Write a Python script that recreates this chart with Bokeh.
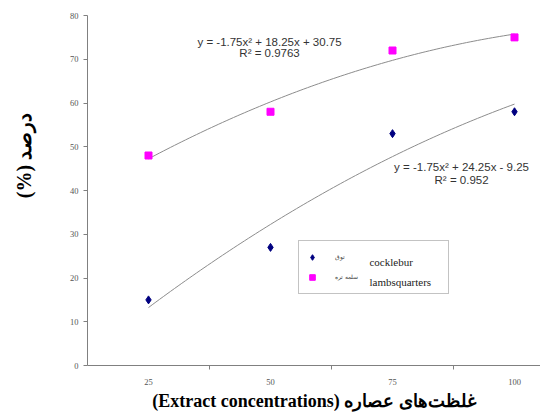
import numpy as np
from bokeh.plotting import figure
from bokeh.models import Range1d, FixedTicker, Legend, LegendItem, Label
from bokeh.embed import file_html
from bokeh.resources import INLINE

concentrations = ["25", "50", "75", "100"]
cocklebur = [15, 27, 53, 58]
lambsquarters = [48, 58, 72, 75]
fit_cocklebur = [-1.75, 24.25, -9.25]
fit_lambsquarters = [-1.75, 18.25, 30.75]
eq_cocklebur = ["y = -1.75x² + 24.25x - 9.25", "R² = 0.952"]
eq_lambsquarters = ["y = -1.75x² + 18.25x + 30.75", "R² = 0.9763"]
legend_fa = ["توق", "سلمه تره"]
legend_en = ["cocklebur", "lambsquarters"]

idx = list(range(1, len(concentrations) + 1))
NB = "\u00a0"

p = figure(width=540, height=413, output_backend="svg", toolbar_location=None,
           x_range=Range1d(0.5, 4.213), y_range=Range1d(0, 80),
           min_border_left=87, min_border_right=0, min_border_top=15, min_border_bottom=44)
p.outline_line_color = None
p.xgrid.visible = False
p.ygrid.visible = False
p.background_fill_color = "white"

# trend lines
xs = np.linspace(1, 4, 100)
for coef in (fit_cocklebur, fit_lambsquarters):
    p.line(xs, np.polyval(coef, xs), line_color="#8c8c8c", line_width=1)

r1 = p.scatter(idx, cocklebur, marker="diamond", size=8, fill_color="#000080", line_color="#000080")
r2 = p.scatter(idx, lambsquarters, marker="square", size=7, fill_color="#ff00ff", line_color="#ff00ff")

# axes
xa = p.xaxis[0]
xa.ticker = FixedTicker(ticks=idx, minor_ticks=[1.5, 2.5, 3.5])
xa.major_label_overrides = {i: c for i, c in zip(idx, concentrations)}
xa.major_tick_out = 0
xa.major_tick_in = 0
xa.minor_tick_out = 4
xa.minor_tick_in = 0
xa.minor_tick_line_color = "#808080"
xa.axis_line_color = "#808080"
xa.major_label_text_font = "Liberation Serif"
xa.major_label_text_font_size = "8.5px"
xa.major_label_text_color = "#555555"
xa.major_label_standoff = 9
xa.axis_label = "(Extract concentrations) غلظت‌های عصاره"
xa.axis_label_text_font = "Liberation Serif"
xa.axis_label_text_font_style = "bold"
xa.axis_label_text_font_size = "18px"
xa.axis_label_text_color = "black"
xa.axis_label_standoff = 3

ya = p.yaxis[0]
ya.ticker = FixedTicker(ticks=list(range(0, 81, 10)))
ya.major_tick_out = 4
ya.major_tick_in = 0
ya.minor_tick_out = 0
ya.minor_tick_in = 0
ya.major_tick_line_color = "#808080"
ya.axis_line_color = "#808080"
ya.major_label_text_font = "Liberation Serif"
ya.major_label_text_font_size = "8.5px"
ya.major_label_text_color = "#555555"
ya.major_label_standoff = 5
ya.axis_label = NB * 14 + "(%)" + NB + "درصد"
ya.axis_label_text_font = "Liberation Serif"
ya.axis_label_text_font_style = "bold"
ya.axis_label_text_font_size = "20px"
ya.axis_label_text_color = "black"
ya.axis_label_standoff = 32

# equations
for (txt, yy) in zip(eq_lambsquarters, [73.9, 71.4]):
    p.add_layout(Label(x=1.992, y=yy, text=txt, text_align="center", text_baseline="middle",
                       text_font="Liberation Sans", text_font_size="11.5px", text_color="#333333"))
for (txt, yy) in zip(eq_cocklebur, [45.4, 42.3]):
    p.add_layout(Label(x=3.566, y=yy, text=txt, text_align="center", text_baseline="middle",
                       text_font="Liberation Sans", text_font_size="11.5px", text_color="#333333"))

# legend
legend = Legend(items=[LegendItem(label=legend_fa[0], renderers=[r1]),
                       LegendItem(label=legend_fa[1], renderers=[r2])],
                location=(211, 71), orientation="vertical",
                glyph_width=14, glyph_height=20, label_height=20, label_width=107,
                label_standoff=16, padding=6, spacing=0, margin=0,
                label_text_font="Noto Sans", label_text_font_size="6px",
                border_line_color="#888888", border_line_width=1,
                background_fill_alpha=0)
p.add_layout(legend, "center")
for (txt, yy) in zip(legend_en, [23.7, 19.2]):
    p.add_layout(Label(x=2.811, y=yy, text=txt, text_align="left", text_baseline="middle",
                       text_font="Liberation Serif", text_font_size="11px", text_color="#222222",
                       level="overlay"))

open("out.html", "w").write(file_html(p, INLINE))
